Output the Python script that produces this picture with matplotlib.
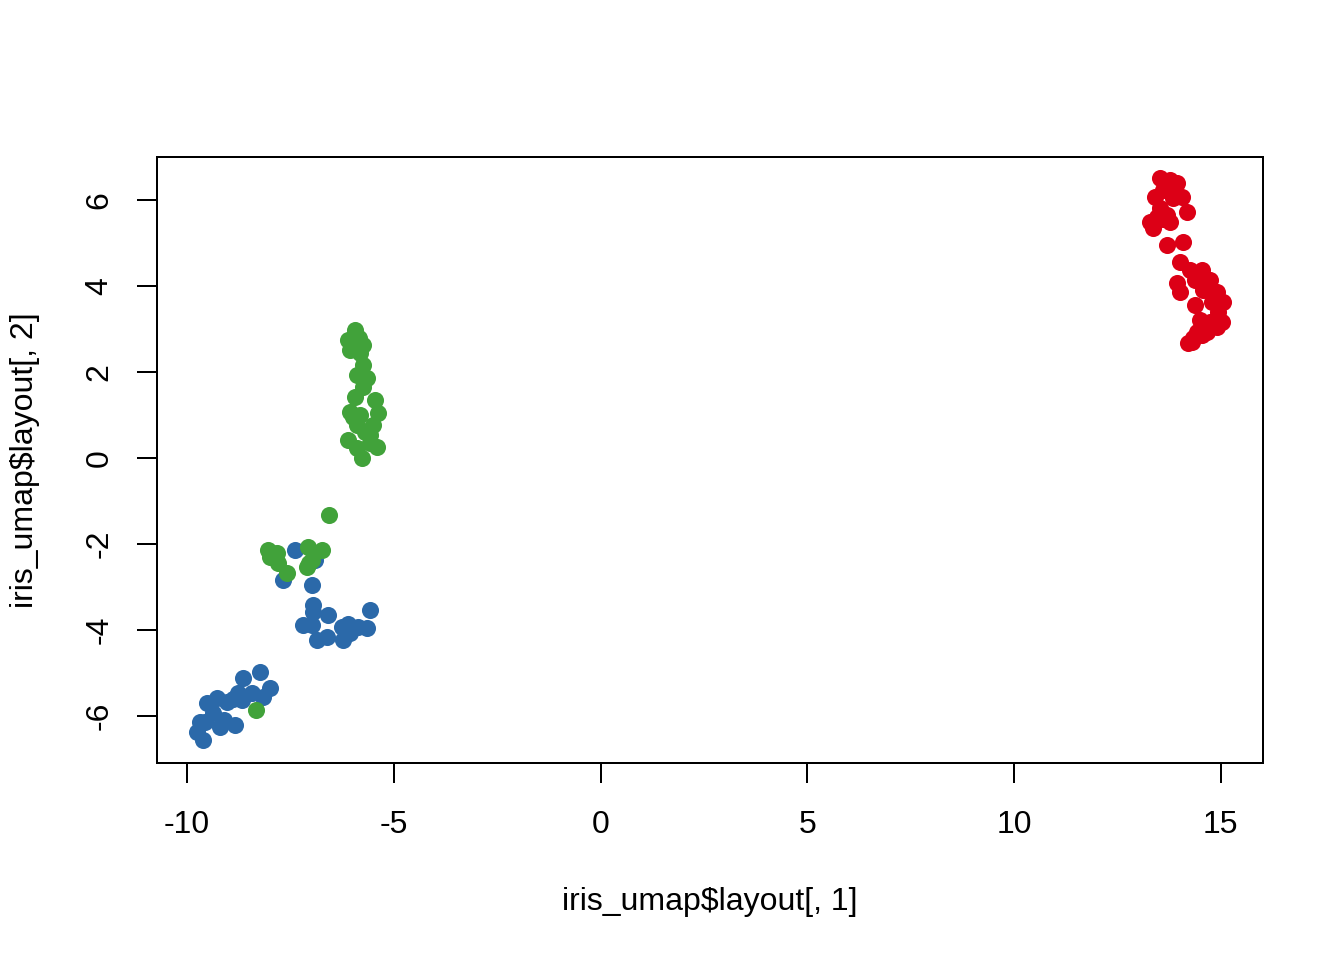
import matplotlib
matplotlib.use("Agg")
import matplotlib.pyplot as plt

plt.rcParams.update({
    "font.family": ["Liberation Sans", "DejaVu Sans"],
    "font.size": 12,
    "axes.unicode_minus": False,
})

# ── Data ──────────────────────────────────────────────────
red_x = [13.53, 13.77, 13.94, 13.41, 13.60, 14.06, 13.85, 14.18, 13.53, 13.29,
         13.36, 13.77, 13.70, 13.70, 14.09, 14.01, 14.26, 14.55, 14.74, 13.94,
         14.01, 14.38, 14.57, 14.91, 15.05, 14.38, 14.79, 14.93, 14.50, 15.03,
         14.74, 14.67, 14.43, 14.21, 14.33, 14.55, 13.65, 13.85, 13.45, 13.60,
         14.30, 14.90, 14.60, 14.85]
red_y = [6.51, 6.47, 6.40, 6.07, 6.23, 6.07, 6.05, 5.72, 5.81, 5.49,
         5.35, 5.49, 5.65, 4.95, 5.02, 4.56, 4.37, 4.37, 4.14, 4.07,
         3.86, 4.14, 3.91, 3.86, 3.63, 3.56, 3.63, 3.40, 3.21, 3.16,
         3.16, 2.93, 2.93, 2.67, 2.79, 2.86, 6.35, 6.30, 5.60, 5.55,
         2.70, 3.05, 4.05, 3.75]

blue_x = [-7.39, -7.68, -6.90, -6.98, -6.95, -6.95, -6.59, -5.57, -7.19, -6.98,
          -6.86, -6.61, -6.25, -6.23, -5.86, -5.65, -6.06, -6.10,
          -8.23, -8.65, -7.99, -8.16, -8.77, -9.03, -9.27, -9.52, -9.69, -9.76,
          -9.61, -9.37, -9.20, -8.84, -8.67, -8.43, -9.56, -9.10, -8.90]
blue_y = [-2.14, -2.84, -2.37, -2.95, -3.42, -3.58, -3.65, -3.53, -3.88, -3.88,
          -4.23, -4.16, -3.93, -4.23, -3.93, -3.95, -4.07, -3.85,
          -4.98, -5.12, -5.35, -5.56, -5.47, -5.67, -5.58, -5.70, -6.14, -6.37,
          -6.56, -5.93, -6.26, -6.21, -5.63, -5.47, -6.14, -6.10, -5.60]

green_x = [-5.94, -6.11, -5.74, -6.06, -5.82, -5.74, -5.89, -5.65, -5.74, -5.94,
           -5.45, -6.06, -5.82, -5.38, -5.89, -5.50, -6.11, -5.57, -5.89, -5.41,
           -5.77, -5.57, -5.95, -5.85, -6.00, -5.70,
           -6.57, -8.04, -7.82, -7.99, -7.80, -7.58, -7.07, -6.74, -6.98, -7.10,
           -7.95, -7.05, -8.33]
green_y = [2.98, 2.74, 2.63, 2.51, 2.44, 2.16, 1.93, 1.86, 1.65, 1.42,
           1.35, 1.07, 1.00, 1.05, 0.77, 0.77, 0.42, 0.53, 0.23, 0.26,
           0.00, 0.35, 2.65, 2.80, 0.95, 0.60,
           -1.33, -2.14, -2.21, -2.30, -2.44, -2.67, -2.07, -2.14, -2.37, -2.53,
           -2.20, -2.45, -5.86]

x_ticks = [-10, -5, 0, 5, 10, 15]
y_ticks = [-6, -4, -2, 0, 2, 4, 6]

# ── Figure ────────────────────────────────────────────────
fig = plt.figure(figsize=(7, 5), dpi=192)
ax = fig.add_axes([157 / 1344, 1 - 763 / 960, 1106 / 1344, 606 / 960])

ms = 6.4
ax.plot(red_x, red_y, "o", color="#DC0016", markersize=ms, markeredgewidth=0)
ax.plot(blue_x, blue_y, "o", color="#2B69A9", markersize=ms, markeredgewidth=0)
ax.plot(green_x, green_y, "o", color="#41A23A", markersize=ms, markeredgewidth=0)

ax.set_xlim(-10.73, 16.02)
ax.set_ylim(-7.09, 7.0)
ax.set_xticks(x_ticks)
ax.set_yticks(y_ticks)
ax.set_yticklabels([str(t) for t in y_ticks], rotation=90, va="center")
ax.tick_params(length=7.5, width=0.75, labelsize=12)
ax.tick_params(axis="x", pad=10)
ax.tick_params(axis="y", pad=8.5)
for s in ax.spines.values():
    s.set_linewidth(0.75)

ax.set_xlabel("iris_umap$layout[, 1]")
ax.xaxis.set_label_coords(0.5, -0.205)
ax.set_ylabel("iris_umap$layout[, 2]")
ax.yaxis.set_label_coords(-0.106, 0.5)

fig.savefig("out.png", dpi=192)
